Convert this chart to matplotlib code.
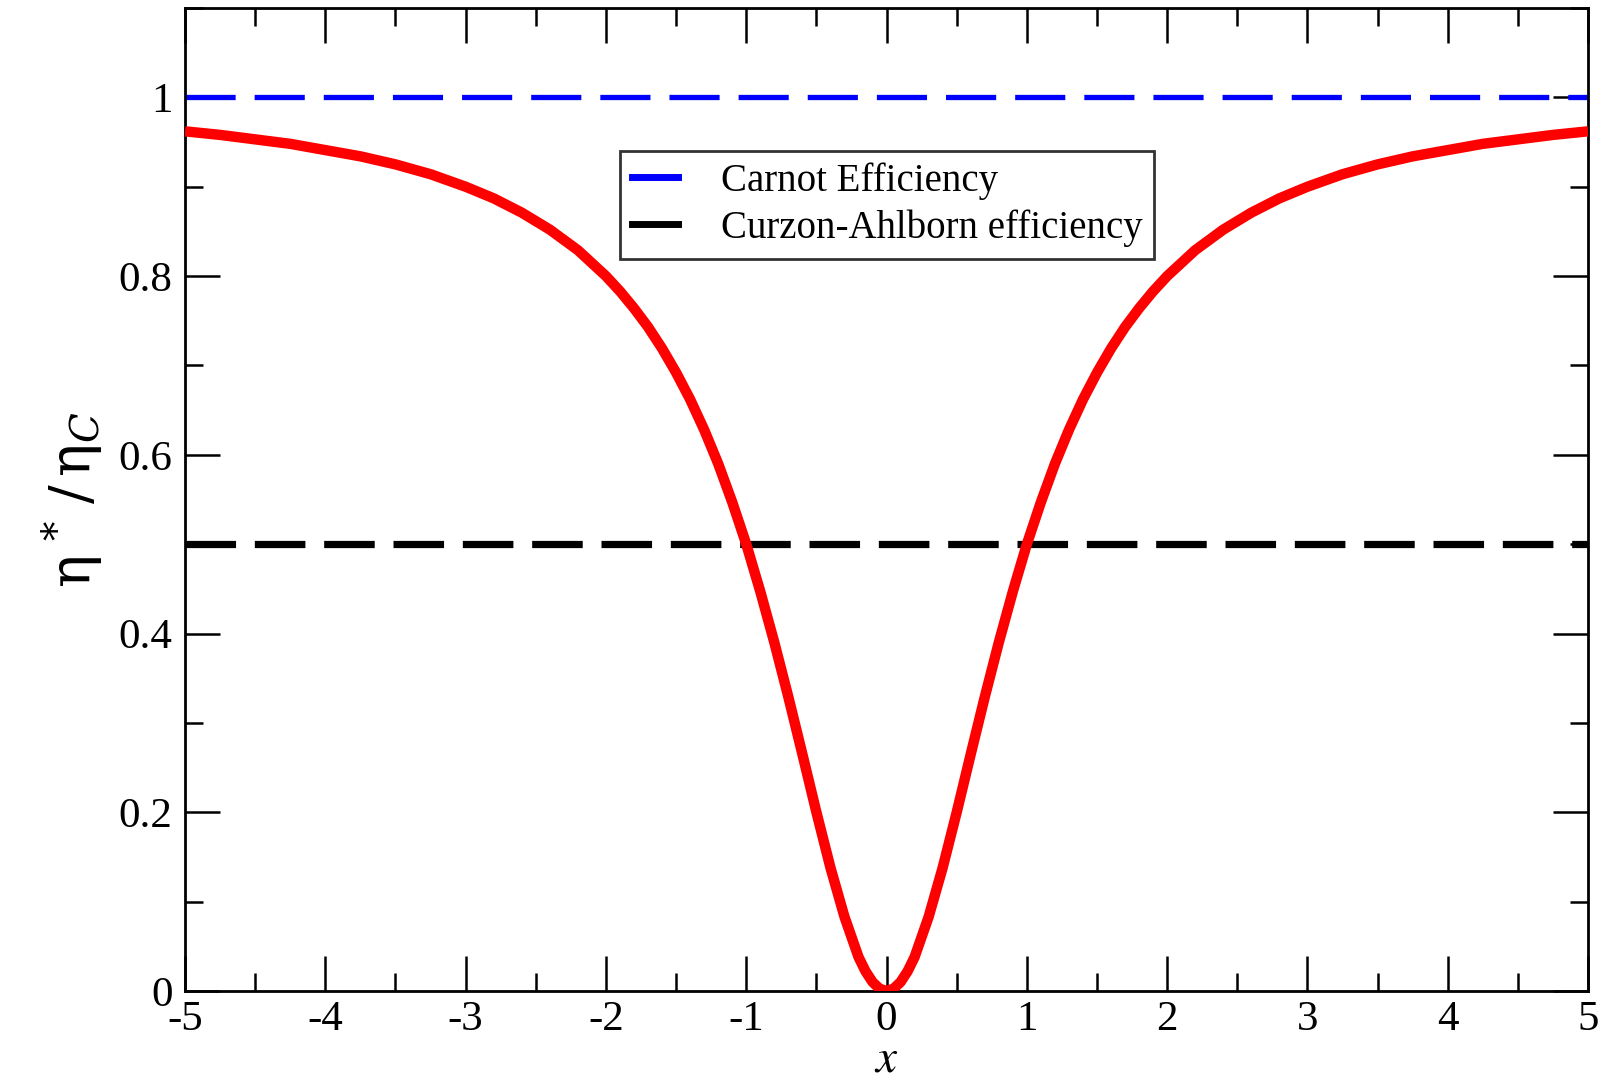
import matplotlib
matplotlib.use("Agg")
import matplotlib.pyplot as plt
from matplotlib.ticker import MultipleLocator

# Data
x_vals = [-5.0, -4.75, -4.5, -4.25, -4.0, -3.75, -3.5, -3.25, -3.0, -2.8, -2.6, -2.4, -2.2,
          -2.0, -1.9, -1.8, -1.7, -1.6, -1.5, -1.4, -1.3, -1.2, -1.1, -1.0, -0.9, -0.8, -0.7,
          -0.6, -0.5, -0.4, -0.3, -0.2, -0.15, -0.1, -0.05,
          0.0, 0.05, 0.1, 0.15, 0.2, 0.3, 0.4, 0.5, 0.6, 0.7, 0.8, 0.9, 1.0, 1.1, 1.2, 1.3,
          1.4, 1.5, 1.6, 1.7, 1.8, 1.9, 2.0, 2.2, 2.4, 2.6, 2.8, 3.0, 3.25, 3.5, 3.75, 4.0,
          4.25, 4.5, 4.75, 5.0]
eta_ratio = [0.962, 0.958, 0.953, 0.948, 0.941, 0.934, 0.925, 0.914, 0.900, 0.887, 0.871, 0.852, 0.829,
             0.800, 0.783, 0.764, 0.743, 0.719, 0.692, 0.662, 0.628, 0.590, 0.547, 0.500, 0.447, 0.390, 0.329,
             0.265, 0.200, 0.138, 0.083, 0.038, 0.022, 0.010, 0.0025,
             0.000, 0.0025, 0.010, 0.022, 0.038, 0.083, 0.138, 0.200, 0.265, 0.329, 0.390, 0.447, 0.500, 0.547, 0.590, 0.628,
             0.662, 0.692, 0.719, 0.743, 0.764, 0.783, 0.800, 0.829, 0.852, 0.871, 0.887, 0.900, 0.914, 0.925, 0.934, 0.941,
             0.948, 0.953, 0.958, 0.962]
carnot_level = 1.0
ca_level = 0.5
x_range = [-5, 5]
legend_labels = ["Carnot Efficiency", "Curzon-Ahlborn efficiency"]

serif = ["Liberation Serif", "DejaVu Serif"]

fig = plt.figure(figsize=(16.09, 10.83), dpi=100)
ax = fig.add_axes([0.115, 0.085, 0.872, 0.9076])

ax.plot(x_range, [carnot_level, carnot_level], color="#0000ff", lw=3.8,
        dashes=(9.5, 3.6), label=legend_labels[0], zorder=2)
ax.plot(x_range, [ca_level, ca_level], color="black", lw=5.2,
        dashes=(7.0, 2.6), label=legend_labels[1], zorder=2)
ax.plot(x_vals, eta_ratio, color="#ff0000", lw=7.5, solid_joinstyle="round",
        solid_capstyle="butt", zorder=3)

ax.set_xlim(-5, 5)
ax.set_ylim(0, 1.1)
ax.xaxis.set_minor_locator(MultipleLocator(0.5))
ax.yaxis.set_minor_locator(MultipleLocator(0.1))
ax.set_yticks([0, 0.2, 0.4, 0.6, 0.8, 1.0])
ax.set_yticklabels(["0", "0.2", "0.4", "0.6", "0.8", "1"])
ax.set_xticks(range(-5, 6))
ax.set_xticklabels([str(v) for v in range(-5, 6)])

ax.tick_params(which="both", direction="in", top=True, right=True, width=1.8, colors="black")
ax.tick_params(which="major", length=25, pad=9)
ax.tick_params(axis="x", which="major", pad=7)
ax.tick_params(which="minor", length=13)
for lab in ax.get_xticklabels() + ax.get_yticklabels():
    lab.set_fontfamily(serif)
    lab.set_fontsize(31)
for sp in ax.spines.values():
    sp.set_linewidth(2)

ax.set_xlabel("$x$", fontsize=34, labelpad=-2)
ax.xaxis.label.set_math_fontfamily("stix")
ax.set_ylabel(r"$\mathrm{\eta}^{\,*}\,/\,\mathrm{\eta}_{C}$", fontsize=40, labelpad=10)
ax.yaxis.label.set_math_fontfamily("dejavuserif")

leg = ax.legend(loc="upper left", bbox_to_anchor=(0.310, 0.855), frameon=True, fancybox=False,
                edgecolor="black", prop={"family": serif, "size": 28},
                handlelength=1.2, handletextpad=1.1, borderpad=0.3, labelspacing=0.25,
                borderaxespad=0)
leg.get_frame().set_linewidth(2)
for h in leg.get_lines():
    h.set_linestyle("-")
    h.set_linewidth(5)

fig.savefig("out.png", dpi=100)
